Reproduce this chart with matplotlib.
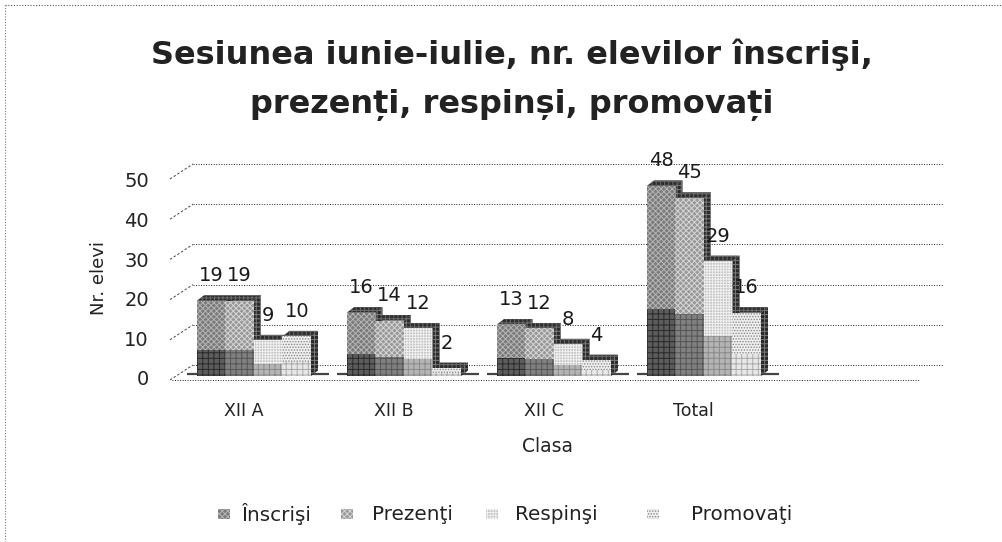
import matplotlib
matplotlib.use('Agg')
import matplotlib.pyplot as plt
from matplotlib.patches import Polygon, Rectangle
from matplotlib.lines import Line2D

title = 'Sesiunea iunie-iulie, nr. elevilor înscrişi,\nprezenți, respinși, promovați'
classes = ['XII A', 'XII B', 'XII C', 'Total']
inscrisi = [19, 16, 13, 48]
prezenti = [19, 14, 12, 45]
respinsi = [9, 12, 8, 29]
promovati = [10, 2, 4, 16]
series_names = ['Înscrişi', 'Prezenţi', 'Respinşi', 'Promovaţi']
y_ticks = [0, 10, 20, 30, 40, 50]

W, H = 1003, 542
PX_X = 150.0        # pixels per category
PX_Y = 3.96         # pixels per unit
BAR_W = 28.5 / PX_X
DX, DY = 7 / PX_X, 5.5 / PX_Y   # bar depth

plt.rcParams['hatch.linewidth'] = 0.7
fig = plt.figure(figsize=(W / 100, H / 100), dpi=100)
ax = fig.add_axes([150 / W, (H - 376) / H, 800 / W, 198 / H])
for s in ax.spines.values():
    s.set_visible(False)


def px(x):
    return (x - 254) / PX_X


def py(y):
    return (376 - y) / PX_Y


# page border, scanned
fig.add_artist(Line2D([5 / W, 1], [1 - 5 / H] * 2, color='#555555', lw=0.8, ls=(0, (1, 1.5))))
fig.add_artist(Line2D([5 / W, 5 / W], [0, 1 - 5 / H], color='#777777', lw=0.8, ls=(0, (1, 1.5))))

# back wall and floor
grid_kw = dict(color='#222222', lw=0.7, ls=(0, (1, 1.6)), zorder=1, clip_on=False)
diag_kw = dict(color='#444444', lw=0.7, ls=(0, (2.5, 2)), zorder=1, clip_on=False)
for v in y_ticks:
    back = py(365) + v * 4.02 / PX_Y
    front = back - 15 / PX_Y
    ax.plot([px(193), px(943)], [back, back], **grid_kw)
    ax.plot([px(170), px(193)], [front, back], **diag_kw)
ax.plot([px(172), px(920)], [py(380), py(380)], **grid_kw)

# front, top, side
styles = [
    dict(front='#7a7a7a', low='#5c5c5c', hatch='xxxxxx', edge='#b5b5b5', low_edge='#2a2a2a'),
    dict(front='#989898', low='#808080', hatch='xxxxxx', edge='#d5d5d5', low_edge='#555555'),
    dict(front='#c4c4c4', low='#b4b4b4', hatch='++++++', edge='#f0f0f0', low_edge='#8a8a8a'),
    dict(front='#f0f0f0', low='#e8e8e8', hatch='......', edge='#888888', low_edge='#aaaaaa'),
]
all_series = [inscrisi, prezenti, respinsi, promovati]

# dark strip on the floor under each group
for i in range(len(classes)):
    ax.plot([i - 2 * BAR_W - 10 / PX_X, i + 2 * BAR_W + 18 / PX_X], [0.5, 0.5], color='#444444', lw=1.6,
            zorder=2, clip_on=False, solid_capstyle='butt')

for j, vals in enumerate(all_series):
    st = styles[j]
    for i, v in enumerate(vals):
        x0 = i - 2 * BAR_W + j * BAR_W
        z = 3 + j
        ax.add_patch(Polygon([(x0, v), (x0 + DX, v + DY), (x0 + BAR_W + DX, v + DY), (x0 + BAR_W, v)],
                             fc='#2e2e2e', ec='#6a6a6a', lw=0, hatch='++++', zorder=z, clip_on=False))
        ax.add_patch(Polygon([(x0 + BAR_W, 0), (x0 + BAR_W + DX, DY), (x0 + BAR_W + DX, v + DY), (x0 + BAR_W, v)],
                             fc='#2a2a2a', ec='#7a7a7a', lw=0, hatch='++++', zorder=z, clip_on=False))
        ax.bar(x0, v, BAR_W, align='edge', color=st['front'], edgecolor=st['edge'], hatch=st['hatch'],
               lw=0, zorder=z + 0.1)
        ax.bar(x0, v * 0.35, BAR_W, align='edge', color=st['low'], edgecolor=st['low_edge'], hatch='+++',
               lw=0, zorder=z + 0.2)

# labels on top of everything
for j, vals in enumerate(all_series):
    for i, v in enumerate(vals):
        x0 = i - 2 * BAR_W + j * BAR_W
        ax.annotate(str(v), (x0 + BAR_W / 2, v), xytext=(0, 18), textcoords='offset points',
                    ha='center', va='center', fontsize=14, color='#1a1a1a', zorder=20, annotation_clip=False)

ax.set_xticks([i - 0.07 for i in range(len(classes))])
ax.set_xticklabels(classes, fontsize=12.5, color='#222222')
ax.set_yticks([])
ax.tick_params(axis='x', length=0, pad=19)
ax.set_xlim((150 - 254) / PX_X, (950 - 254) / PX_X)
ax.set_ylim(0, 50)

# value labels of the axis sit on the front plane, a bit under the bar base
for v in y_ticks:
    ax.text(px(149), v - 1, str(v), ha='right', va='center', fontsize=14, color='#222222', clip_on=False)

fig.text(548 / W, 1 - 446 / H, 'Clasa', ha='center', va='center', fontsize=13.5, color='#222222')
fig.text(99 / W, 1 - 278 / H, 'Nr. elevi', rotation=90, ha='center', va='center', fontsize=13, color='#222222')
fig.text(512 / W, 1 - 80 / H, title, ha='center', va='center', fontsize=23, fontweight='bold',
         color='#222222', linespacing=1.75)

# legend
marker_x = [224, 347, 492, 653]
text_x = [242, 372, 515, 691]
for j, name in enumerate(series_names):
    st = styles[j]
    fig.add_artist(Rectangle(((marker_x[j] - 6) / W, 1 - 519 / H), 12 / W, 10 / H, transform=fig.transFigure,
                             fc=st['front'], ec=st['edge'], hatch=st['hatch'], lw=0))
    fig.text(text_x[j] / W, 1 - 514 / H, name, ha='left', va='center', fontsize=14.4, color='#222222')

fig.savefig('out.png', dpi=100)
